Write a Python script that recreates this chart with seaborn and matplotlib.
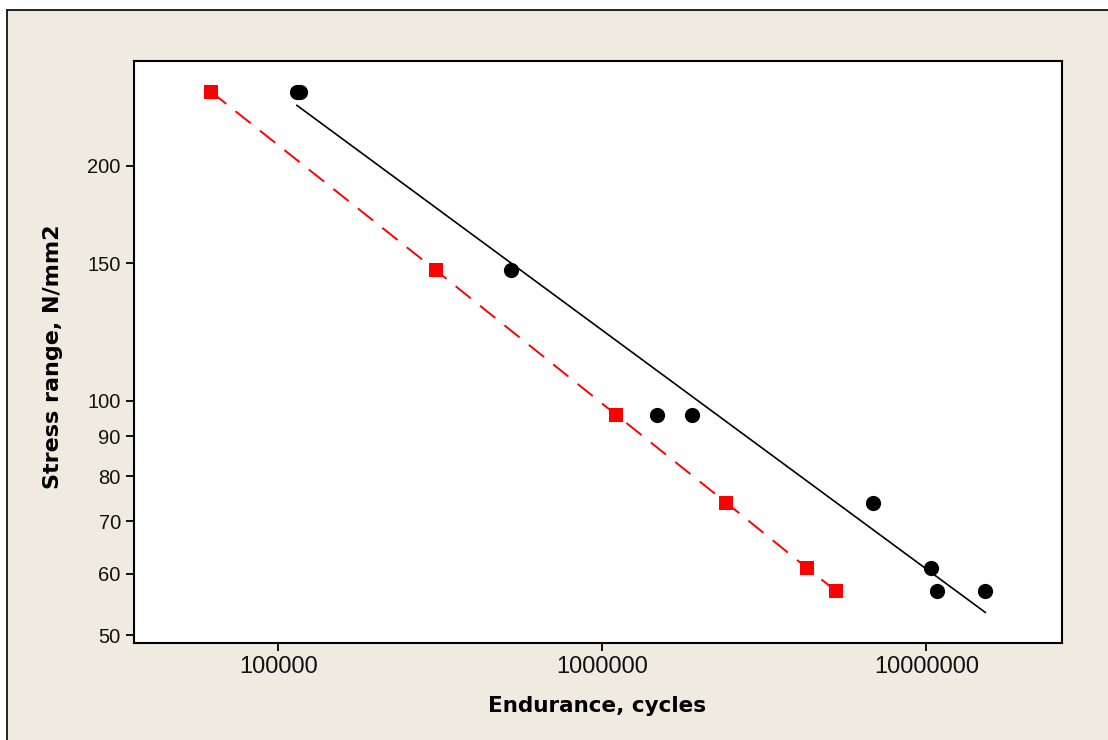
import numpy as np
import pandas as pd
import matplotlib
matplotlib.use("Agg")
import matplotlib.pyplot as plt
from matplotlib.patches import Rectangle
from matplotlib.lines import Line2D
from matplotlib.ticker import FixedLocator, FixedFormatter, NullLocator
import seaborn as sns

# ---- data ----
red_cycles = [62000, 306000, 1100000, 2410000, 4280000, 5260000]
red_stress = [249, 147, 96, 74, 61, 57]

black_cycles = [114000, 117000, 524000, 1476000, 1890000, 6850000, 10350000, 10800000, 15200000]
black_stress = [249, 249, 147, 96, 96, 74, 61, 57, 57]

x_ticks = [100000, 1000000, 10000000]
x_tick_labels = ["100000", "1000000", "10000000"]
y_ticks = [50, 60, 70, 80, 90, 100, 150, 200]
y_tick_labels = ["50", "60", "70", "80", "90", "100", "150", "200"]

x_label = "Endurance, cycles"
y_label = "Stress range, N/mm2"

# ---- style ----
sns.set_theme(style="white")
plt.rcParams['font.family'] = ['Liberation Sans', 'DejaVu Sans']
plt.rcParams['lines.scale_dashes'] = False

W, H = 1108, 740
beige = "#EFEBE1"
fig = plt.figure(figsize=(W / 100, H / 100), dpi=100, facecolor="white")

# outer frame (beige panel with black top/left edge)
fig.patches.append(Rectangle((6.5 / W, 0), 1, 1 - 9.5 / H, transform=fig.transFigure,
                             facecolor=beige, edgecolor="none", zorder=-10))
fig.add_artist(Line2D([6.5 / W, 6.5 / W], [0, 1 - 9.5 / H], transform=fig.transFigure,
                      color="black", lw=1.2))
fig.add_artist(Line2D([6.5 / W, 1], [1 - 9.5 / H, 1 - 9.5 / H], transform=fig.transFigure,
                      color="black", lw=1.2))

ax_l, ax_r, ax_t, ax_b = 134, 1062, 61, 643.3
ax = fig.add_axes([ax_l / W, 1 - ax_b / H, (ax_r - ax_l) / W, (ax_b - ax_t) / H])
ax.set_facecolor("white")
ax.set_xscale("log")
ax.set_yscale("log")

red_df = pd.DataFrame({"cycles": red_cycles, "stress": red_stress})
black_df = pd.DataFrame({"cycles": black_cycles, "stress": black_stress})

# red dashed line through red points
sns.lineplot(data=red_df, x="cycles", y="stress", color="red", lw=1.4,
             linestyle=(0, (14, 8.5)), estimator=None, sort=True, ax=ax, zorder=2)

# black least-squares fit in log-log space
coef = np.polyfit(np.log10(black_df["cycles"]), np.log10(black_df["stress"]), 1)
fit_x = np.array([black_df["cycles"].min(), black_df["cycles"].max()])
fit_y = 10 ** np.polyval(coef, np.log10(fit_x))
sns.lineplot(x=fit_x, y=fit_y, color="black", lw=1.2, estimator=None, sort=False, ax=ax, zorder=2)

sns.scatterplot(data=red_df, x="cycles", y="stress", marker="s", s=100, color="red",
                linewidth=0, ax=ax, zorder=3)
sns.scatterplot(data=black_df, x="cycles", y="stress", marker="o", s=120, color="black",
                linewidth=0, ax=ax, zorder=3)

ax.set_xlim(35870, 2.619e7)
ax.set_ylim(48.85, 272.7)

ax.xaxis.set_major_locator(FixedLocator(x_ticks))
ax.xaxis.set_major_formatter(FixedFormatter(x_tick_labels))
ax.xaxis.set_minor_locator(NullLocator())
ax.yaxis.set_major_locator(FixedLocator(y_ticks))
ax.yaxis.set_major_formatter(FixedFormatter(y_tick_labels))
ax.yaxis.set_minor_locator(NullLocator())

for s in ax.spines.values():
    s.set_visible(True)
    s.set_color("black")
    s.set_linewidth(1.5)

ax.tick_params(axis="x", direction="out", length=6, width=1.3, colors="black",
               labelsize=17, pad=3, bottom=True)
ax.tick_params(axis="y", direction="out", length=5.5, width=1.3, colors="black",
               labelsize=14.5, pad=4, left=True)
for lab in ax.get_xticklabels() + ax.get_yticklabels():
    lab.set_color("#111111")

ax.set_xlabel(x_label, fontsize=15.5, fontweight="bold", color="black",
              family=["DejaVu Sans"])
ax.set_ylabel(y_label, fontsize=16, fontweight="bold", color="black",
              family=["DejaVu Sans"])
ax.xaxis.label.set_verticalalignment("baseline")
ax.yaxis.label.set_verticalalignment("baseline")
ax.xaxis.set_label_coords(0.4985, -(711.7 - ax_b) / (ax_b - ax_t))
ax.yaxis.set_label_coords(-(ax_l - 58.8) / (ax_r - ax_l), 0.492)

fig.savefig("out.png", dpi=100, facecolor=fig.get_facecolor())
